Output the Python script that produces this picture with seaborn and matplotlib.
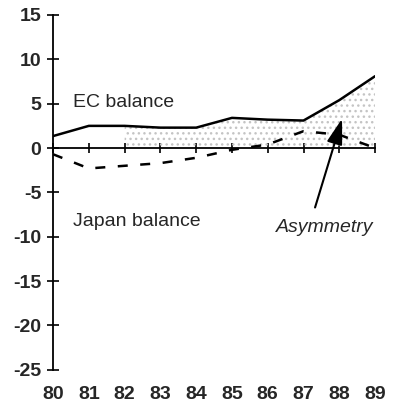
import numpy as np
import pandas as pd
import matplotlib
matplotlib.use("Agg")
import matplotlib.pyplot as plt
import seaborn as sns

years = [80, 81, 82, 83, 84, 85, 86, 87, 88, 89]
ec_balance = [1.35, 2.5, 2.5, 2.3, 2.3, 3.4, 3.2, 3.1, 5.4, 8.1]
japan_balance = [-0.7, -2.3, -2.0, -1.7, -1.1, -0.2, 0.4, 1.9, 1.5, 0.0]
y_ticks = [15, 10, 5, 0, -5, -10, -15, -20, -25]

sns.set_theme(style="white")
plt.rcParams["font.family"] = ["Liberation Sans", "DejaVu Sans"]

df = pd.DataFrame({"year": years, "EC": ec_balance, "Japan": japan_balance})

fig = plt.figure(figsize=(4.02, 4.16), dpi=100)
ax = fig.add_axes([0.132, 0.111, 0.801, 0.853])

# stippled area under the EC line for the later years
mask = df["year"] >= 82
ax.fill_between(df["year"][mask], 0, df["EC"][mask], facecolor="none",
                edgecolor="#c4c4c4", hatch="...", linewidth=0)

sns.lineplot(data=df, x="year", y="EC", ax=ax, color="black", lw=1.8)
sns.lineplot(data=df, x="year", y="Japan", ax=ax, color="black", lw=1.8,
             linestyle=(0, (4, 5)))

ax.set_xlim(80, 89)
ax.set_ylim(-25, 15)
ax.set_xlabel("")
ax.set_ylabel("")

for s in ["top", "right"]:
    ax.spines[s].set_visible(False)
ax.spines["bottom"].set_position(("data", 0))
for s in ["left", "bottom"]:
    ax.spines[s].set_color("black")
    ax.spines[s].set_linewidth(1.3)

ax.set_yticks(y_ticks)
ax.set_yticklabels([str(v) for v in y_ticks], fontsize=14, fontweight="bold")
ax.tick_params(axis="y", left=True, direction="inout", length=9, width=1.2,
               color="black", pad=4)

ax.set_xticks(years)
ax.set_xticklabels([])
ax.tick_params(axis="x", bottom=True, direction="inout", length=7, width=1.2,
               color="black")

sec = ax.secondary_xaxis(-0.045)
sec.set_xticks(years)
sec.set_xticklabels([str(y) for y in years], fontsize=14, fontweight="bold")
sec.tick_params(axis="x", length=0, pad=0)
sec.spines["bottom"].set_visible(False)

ax.text(80.55, 5.1, "EC balance", fontsize=14, va="center", ha="left")
ax.text(80.55, -8.3, "Japan balance", fontsize=14, va="center", ha="left")
ax.text(88.95, -9.0, "Asymmetry", fontsize=14, style="italic",
        va="center", ha="right")
ax.annotate("", xy=(88.1, 3.6), xytext=(87.3, -7.0),
            arrowprops=dict(arrowstyle="-|>,head_length=1.3,head_width=0.4",
                            color="black", lw=1.5))

fig.savefig("out.png", dpi=100)
